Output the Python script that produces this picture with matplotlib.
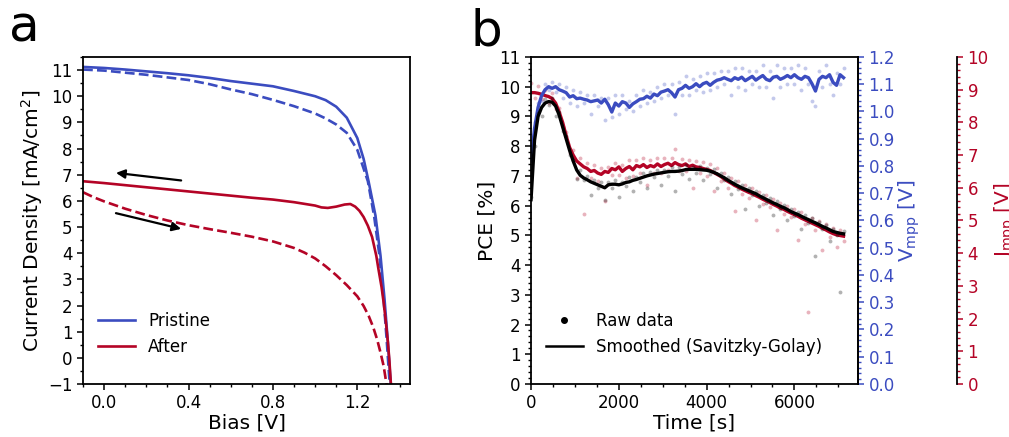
import matplotlib
matplotlib.use("Agg")
import matplotlib.pyplot as plt
from matplotlib.ticker import MultipleLocator, AutoMinorLocator
from matplotlib.lines import Line2D

BLUE = "#3B4CC0"
RED = "#B40426"

# ---------------- Panel a: J-V curves ----------------
v_pristine_fwd = [-0.1, 0.0, 0.1, 0.2, 0.3, 0.4, 0.5, 0.6, 0.7, 0.8, 0.9, 0.95, 1.0, 1.05, 1.1,
                  1.15, 1.2, 1.23, 1.254, 1.286, 1.31, 1.329, 1.345, 1.355, 1.36]
j_pristine_fwd = [11.12, 11.08, 11.02, 10.95, 10.88, 10.8, 10.7, 10.58, 10.48, 10.38, 10.2, 10.1,
                  10.0, 9.85, 9.6, 9.18, 8.4, 7.6, 6.72, 5.44, 3.9, 2.24, 0.58, -0.6, -1.1]
v_pristine_rev = [-0.1, 0.0, 0.1, 0.2, 0.3, 0.4, 0.5, 0.6, 0.7, 0.8, 0.9, 1.0, 1.05, 1.1, 1.15,
                  1.2, 1.25, 1.28, 1.305, 1.325, 1.34, 1.35, 1.355]
j_pristine_rev = [11.02, 10.98, 10.9, 10.82, 10.72, 10.62, 10.46, 10.26, 10.08, 9.86, 9.62, 9.34,
                  9.15, 8.92, 8.6, 7.95, 6.75, 5.4, 3.9, 2.2, 0.6, -0.6, -1.1]
v_after_fwd = [-0.1, 0.0, 0.1, 0.2, 0.3, 0.4, 0.5, 0.6, 0.7, 0.8, 0.9, 1.0, 1.03, 1.06, 1.1, 1.14,
               1.167, 1.19, 1.21, 1.23, 1.25, 1.27, 1.29, 1.3, 1.315, 1.325, 1.335, 1.345, 1.352, 1.36]
j_after_fwd = [6.75, 6.68, 6.6, 6.52, 6.44, 6.36, 6.28, 6.2, 6.12, 6.05, 5.95, 5.82, 5.75, 5.73,
               5.78, 5.86, 5.88, 5.78, 5.62, 5.38, 5.05, 4.62, 3.9, 3.4, 2.7, 2.1, 1.4, 0.6, -0.1, -1.1]
v_after_rev = [-0.1, -0.05, 0.0, 0.1, 0.2, 0.3, 0.4, 0.5, 0.6, 0.7, 0.8, 0.9, 0.95, 1.0, 1.05,
               1.1, 1.15, 1.2, 1.23, 1.254, 1.275, 1.294, 1.31, 1.325, 1.34]
j_after_rev = [6.33, 6.14, 5.98, 5.7, 5.46, 5.25, 5.07, 4.92, 4.78, 4.63, 4.45, 4.2, 4.02, 3.8,
               3.5, 3.16, 2.78, 2.35, 1.98, 1.6, 1.18, 0.7, 0.2, -0.32, -1.1]

# ---------------- Panel b: MPP tracking ----------------
t = [0, 80, 160, 240, 320, 400, 480, 560, 640, 720, 800, 880, 960, 1040, 1120, 1200, 1280, 1360,
     1440, 1520, 1600, 1680, 1760, 1840, 1920, 2000, 2080, 2160, 2240, 2320, 2400, 2480, 2560,
     2640, 2720, 2800, 2880, 2960, 3040, 3120, 3200, 3280, 3360, 3440, 3520, 3600, 3680, 3760,
     3840, 3920, 4000, 4080, 4160, 4240, 4320, 4400, 4480, 4560, 4640, 4720, 4800, 4880, 4960,
     5040, 5120, 5200, 5280, 5360, 5440, 5520, 5600, 5680, 5760, 5840, 5920, 6000, 6080, 6160,
     6240, 6320, 6400, 6480, 6560, 6640, 6720, 6800, 6880, 6960, 7040, 7120]

pce_smooth = [6.2, 8.2, 9.0, 9.3, 9.45, 9.5, 9.48, 9.35, 9.05, 8.65, 8.25, 7.85, 7.5, 7.2, 7.02,
              6.93, 6.87, 6.8, 6.75, 6.7, 6.65, 6.6, 6.7, 6.72, 6.72, 6.7, 6.73, 6.78, 6.8, 6.85,
              6.88, 6.92, 6.96, 7.0, 7.03, 7.06, 7.08, 7.1, 7.12, 7.14, 7.15, 7.15, 7.16, 7.18,
              7.21, 7.22, 7.22, 7.22, 7.21, 7.2, 7.19, 7.16, 7.12, 7.07, 7.0, 6.94, 6.86, 6.79,
              6.72, 6.66, 6.6, 6.55, 6.5, 6.45, 6.4, 6.33, 6.27, 6.21, 6.15, 6.09, 6.04, 5.98,
              5.93, 5.87, 5.8, 5.75, 5.7, 5.64, 5.58, 5.53, 5.47, 5.42, 5.36, 5.3, 5.25, 5.19,
              5.13, 5.1, 5.07, 5.05]
pce_raw = [6.3, 8.0, 9.1, 9.0, 9.6, 9.4, 9.62, 9.0, 9.15, 8.5, 8.35, 7.7, 7.55, 6.9, 7.2, 6.85,
           7.0, 6.35, 6.85, 6.6, 6.8, 6.2, 6.8, 6.6, 6.85, 6.3, 6.8, 6.65, 6.95, 6.5, 6.95, 6.8,
           7.1, 6.6, 7.12, 6.95, 7.2, 6.7, 7.2, 7.0, 7.3, 6.5, 7.3, 7.05, 7.35, 6.9, 7.3, 7.1,
           7.32, 6.85, 7.28, 7.05, 7.22, 6.6, 7.1, 6.85, 6.95, 6.4, 6.82, 6.55, 6.7, 5.9, 6.6,
           6.35, 6.5, 6.0, 6.37, 6.1, 6.25, 5.7, 6.14, 5.88, 6.02, 5.5, 5.9, 5.65, 5.8, 5.2, 5.68,
           5.42, 5.57, 4.3, 5.46, 5.2, 5.35, 4.8, 5.23, 5.0, 3.1, 5.15]

vmpp_smooth = [0.818, 0.938, 1.015, 1.058, 1.080, 1.091, 1.085, 1.091, 1.080, 1.075, 1.069, 1.053,
               1.058, 1.047, 1.049, 1.045, 1.042, 1.036, 1.039, 1.042, 1.031, 1.045, 1.025, 0.998,
               1.031, 1.020, 1.036, 1.031, 1.015, 1.028, 1.036, 1.045, 1.047, 1.056, 1.049, 1.064,
               1.058, 1.071, 1.075, 1.080, 1.069, 1.053, 1.080, 1.085, 1.096, 1.085, 1.091, 1.102,
               1.091, 1.102, 1.107, 1.096, 1.107, 1.115, 1.118, 1.124, 1.118, 1.113, 1.124, 1.118,
               1.126, 1.113, 1.121, 1.129, 1.115, 1.124, 1.132, 1.118, 1.113, 1.126, 1.129, 1.118,
               1.124, 1.132, 1.124, 1.135, 1.124, 1.118, 1.129, 1.124, 1.102, 1.075, 1.118, 1.129,
               1.124, 1.135, 1.107, 1.096, 1.135, 1.124]
vmpp_raw = [0.80, 0.96, 1.03, 1.04, 1.10, 1.08, 1.11, 1.07, 1.10, 1.05, 1.09, 1.03, 1.08, 1.02,
            1.07, 1.03, 1.06, 0.99, 1.06, 1.02, 1.05, 0.97, 1.05, 0.98, 1.06, 0.99, 1.06, 1.01,
            1.04, 1.00, 1.06, 1.02, 1.08, 1.03, 1.07, 1.04, 1.09, 1.05, 1.10, 1.06, 1.10, 0.99,
            1.11, 1.06, 1.13, 1.06, 1.12, 1.08, 1.13, 1.07, 1.14, 1.08, 1.14, 1.09, 1.15, 1.10,
            1.15, 1.06, 1.16, 1.09, 1.16, 1.08, 1.15, 1.10, 1.15, 1.09, 1.17, 1.09, 1.15, 1.05,
            1.17, 1.09, 1.16, 1.10, 1.16, 1.10, 1.17, 1.08, 1.16, 1.10, 1.04, 1.02, 1.15, 1.09,
            1.17, 1.10, 1.06, 1.14, 1.10, 1.16]

jmpp_smooth = [8.91, 8.91, 8.89, 8.86, 8.82, 8.79, 8.73, 8.59, 8.32, 8.0, 7.59, 7.23, 7.0, 6.82,
               6.73, 6.64, 6.59, 6.5, 6.53, 6.45, 6.41, 6.5, 6.47, 6.59, 6.55, 6.64, 6.5, 6.59,
               6.65, 6.55, 6.68, 6.64, 6.71, 6.62, 6.68, 6.64, 6.73, 6.65, 6.71, 6.75, 6.68, 6.77,
               6.71, 6.68, 6.73, 6.65, 6.69, 6.64, 6.62, 6.59, 6.56, 6.53, 6.47, 6.41, 6.35, 6.27,
               6.2, 6.14, 6.07, 6.02, 5.96, 5.91, 5.86, 5.82, 5.76, 5.71, 5.65, 5.6, 5.55, 5.49,
               5.44, 5.38, 5.34, 5.28, 5.23, 5.18, 5.13, 5.07, 5.02, 4.97, 4.92, 4.87, 4.82, 4.76,
               4.71, 4.65, 4.6, 4.56, 4.54, 4.52]
jmpp_raw = [9.2, 8.75, 9.1, 8.7, 9.0, 8.6, 8.9, 8.4, 8.45, 7.85, 7.7, 7.05, 7.15, 6.3, 6.9, 5.2,
            6.75, 6.3, 6.7, 6.2, 6.6, 5.6, 6.65, 6.4, 6.75, 6.4, 6.7, 6.3, 6.85, 6.35, 6.85, 6.45,
            6.9, 6.1, 6.85, 6.45, 6.9, 6.45, 6.9, 6.55, 6.9, 7.2, 6.5, 6.88, 6.5, 6.85, 6.0, 6.82,
            6.45, 6.78, 6.35, 6.72, 5.9, 6.6, 6.2, 6.45, 6.0, 6.3, 5.3, 6.2, 5.8, 6.08, 5.7, 6.0,
            5.0, 5.88, 5.5, 5.78, 5.4, 5.66, 4.7, 5.55, 5.2, 5.45, 5.1, 5.35, 4.4, 5.25, 4.88, 2.2,
            5.08, 4.7, 4.98, 4.1, 4.88, 4.5, 4.78, 4.2, 4.7, 4.38]

# ---------------- Figure ----------------
plt.rcParams["font.family"] = ["DejaVu Sans"]
fig = plt.figure(figsize=(10.09, 4.37), dpi=100)
fig.patch.set_facecolor("white")

TICK_FS = 12
LABEL_FS = 14.5

def style_ticks(a, color="black", which_axis="both"):
    a.tick_params(axis=which_axis, which="major", length=4, width=1.1, labelsize=TICK_FS,
                  direction="out", colors=color)
    a.tick_params(axis=which_axis, which="minor", length=2.5, width=1.0, direction="out",
                  colors=color)

# Panel a
axa = fig.add_axes([0.0823, 0.1213, 0.3241, 0.7483])
axa.plot(v_pristine_fwd, j_pristine_fwd, color=BLUE, lw=1.9, label="Pristine")
axa.plot(v_pristine_rev, j_pristine_rev, color=BLUE, lw=1.9, ls="--")
axa.plot(v_after_fwd, j_after_fwd, color=RED, lw=1.9, label="After")
axa.plot(v_after_rev, j_after_rev, color=RED, lw=1.9, ls="--")
axa.annotate("", xy=(0.056, 7.07), xytext=(0.365, 6.78),
             arrowprops=dict(arrowstyle="-|>", color="black", lw=1.6, mutation_scale=13,
                             shrinkA=0, shrinkB=0))
axa.annotate("", xy=(0.365, 4.93), xytext=(0.056, 5.53),
             arrowprops=dict(arrowstyle="-|>", color="black", lw=1.6, mutation_scale=13,
                             shrinkA=0, shrinkB=0))
axa.set_xlim(-0.1, 1.45)
axa.set_ylim(-1, 11.5)
axa.xaxis.set_major_locator(MultipleLocator(0.4))
axa.xaxis.set_minor_locator(MultipleLocator(0.1))
axa.yaxis.set_major_locator(MultipleLocator(1))
axa.yaxis.set_minor_locator(MultipleLocator(0.5))
style_ticks(axa)
for s in axa.spines.values():
    s.set_linewidth(1.3)
axa.set_xlabel("Bias [V]", fontsize=LABEL_FS, labelpad=1)
axa.set_ylabel("Current Density [mA/cm$^2$]", fontsize=LABEL_FS, labelpad=2)
axa.legend(loc="lower left", frameon=False, fontsize=12, handlelength=2.2,
           bbox_to_anchor=(0.0, 0.04))

# Panel b
axb = fig.add_axes([0.5263, 0.1213, 0.3241, 0.7483])
axv = axb.twinx()
axj = axb.twinx()
axj.spines["right"].set_position(("axes", 1.303))
for nm in ["left", "top", "bottom"]:
    axj.spines[nm].set_visible(False)
    axv.spines[nm].set_visible(False)

axj.set_zorder(1)
axv.set_zorder(2)
axb.set_zorder(3)
for a in (axb, axv, axj):
    a.patch.set_visible(False)

axj.plot(t, jmpp_raw, ls="none", marker="o", ms=2.8, color=RED, alpha=0.3, mew=0)
axj.plot(t, jmpp_smooth, color=RED, lw=2.4)
axv.plot(t, vmpp_raw, ls="none", marker="o", ms=2.8, color=BLUE, alpha=0.3, mew=0)
axv.plot(t, vmpp_smooth, color=BLUE, lw=2.4)
axb.plot(t, pce_raw, ls="none", marker="o", ms=2.8, color="black", alpha=0.3, mew=0)
axb.plot(t, pce_smooth, color="black", lw=2.4)

axb.set_xlim(0, 7450)
axb.set_ylim(0, 11)
axv.set_ylim(0, 1.2)
axj.set_ylim(0, 10)

axb.xaxis.set_major_locator(MultipleLocator(2000))
axb.xaxis.set_minor_locator(MultipleLocator(500))
axb.yaxis.set_major_locator(MultipleLocator(1))
axb.yaxis.set_minor_locator(AutoMinorLocator(5))
axv.yaxis.set_major_locator(MultipleLocator(0.1))
axv.yaxis.set_minor_locator(AutoMinorLocator(5))
axj.yaxis.set_major_locator(MultipleLocator(1))
axj.yaxis.set_minor_locator(AutoMinorLocator(5))

style_ticks(axb)
style_ticks(axv, color=BLUE, which_axis="y")
style_ticks(axj, color=RED, which_axis="y")
axv.yaxis.set_major_formatter(matplotlib.ticker.FormatStrFormatter("%.1f"))
for s in axb.spines.values():
    s.set_linewidth(1.3)
axv.spines["right"].set_linewidth(1.3)
axv.spines["right"].set_color("black")
axj.spines["right"].set_linewidth(1.3)
axj.spines["right"].set_color("black")

axb.set_xlabel("Time [s]", fontsize=LABEL_FS, labelpad=1)
axb.set_ylabel("PCE [%]", fontsize=LABEL_FS, labelpad=2)
axv.set_ylabel("V$_{\\mathrm{mpp}}$ [V]", fontsize=LABEL_FS, color=BLUE, labelpad=1)
axj.set_ylabel("J$_{\\mathrm{mpp}}$ [V]", fontsize=LABEL_FS, color=RED, labelpad=3)

handles = [Line2D([], [], ls="none", marker="o", ms=4, color="black"),
           Line2D([], [], color="black", lw=1.8)]
axb.legend(handles, ["Raw data", "Smoothed (Savitzky-Golay)"], loc="lower left",
           frameon=False, fontsize=12, handlelength=2.2, bbox_to_anchor=(0.0, 0.04))

fig.text(0.009, 0.905, "a", fontsize=36, va="baseline", ha="left")
fig.text(0.466, 0.895, "b", fontsize=36, va="baseline", ha="left")

fig.savefig("out.png", dpi=100, facecolor="white")
